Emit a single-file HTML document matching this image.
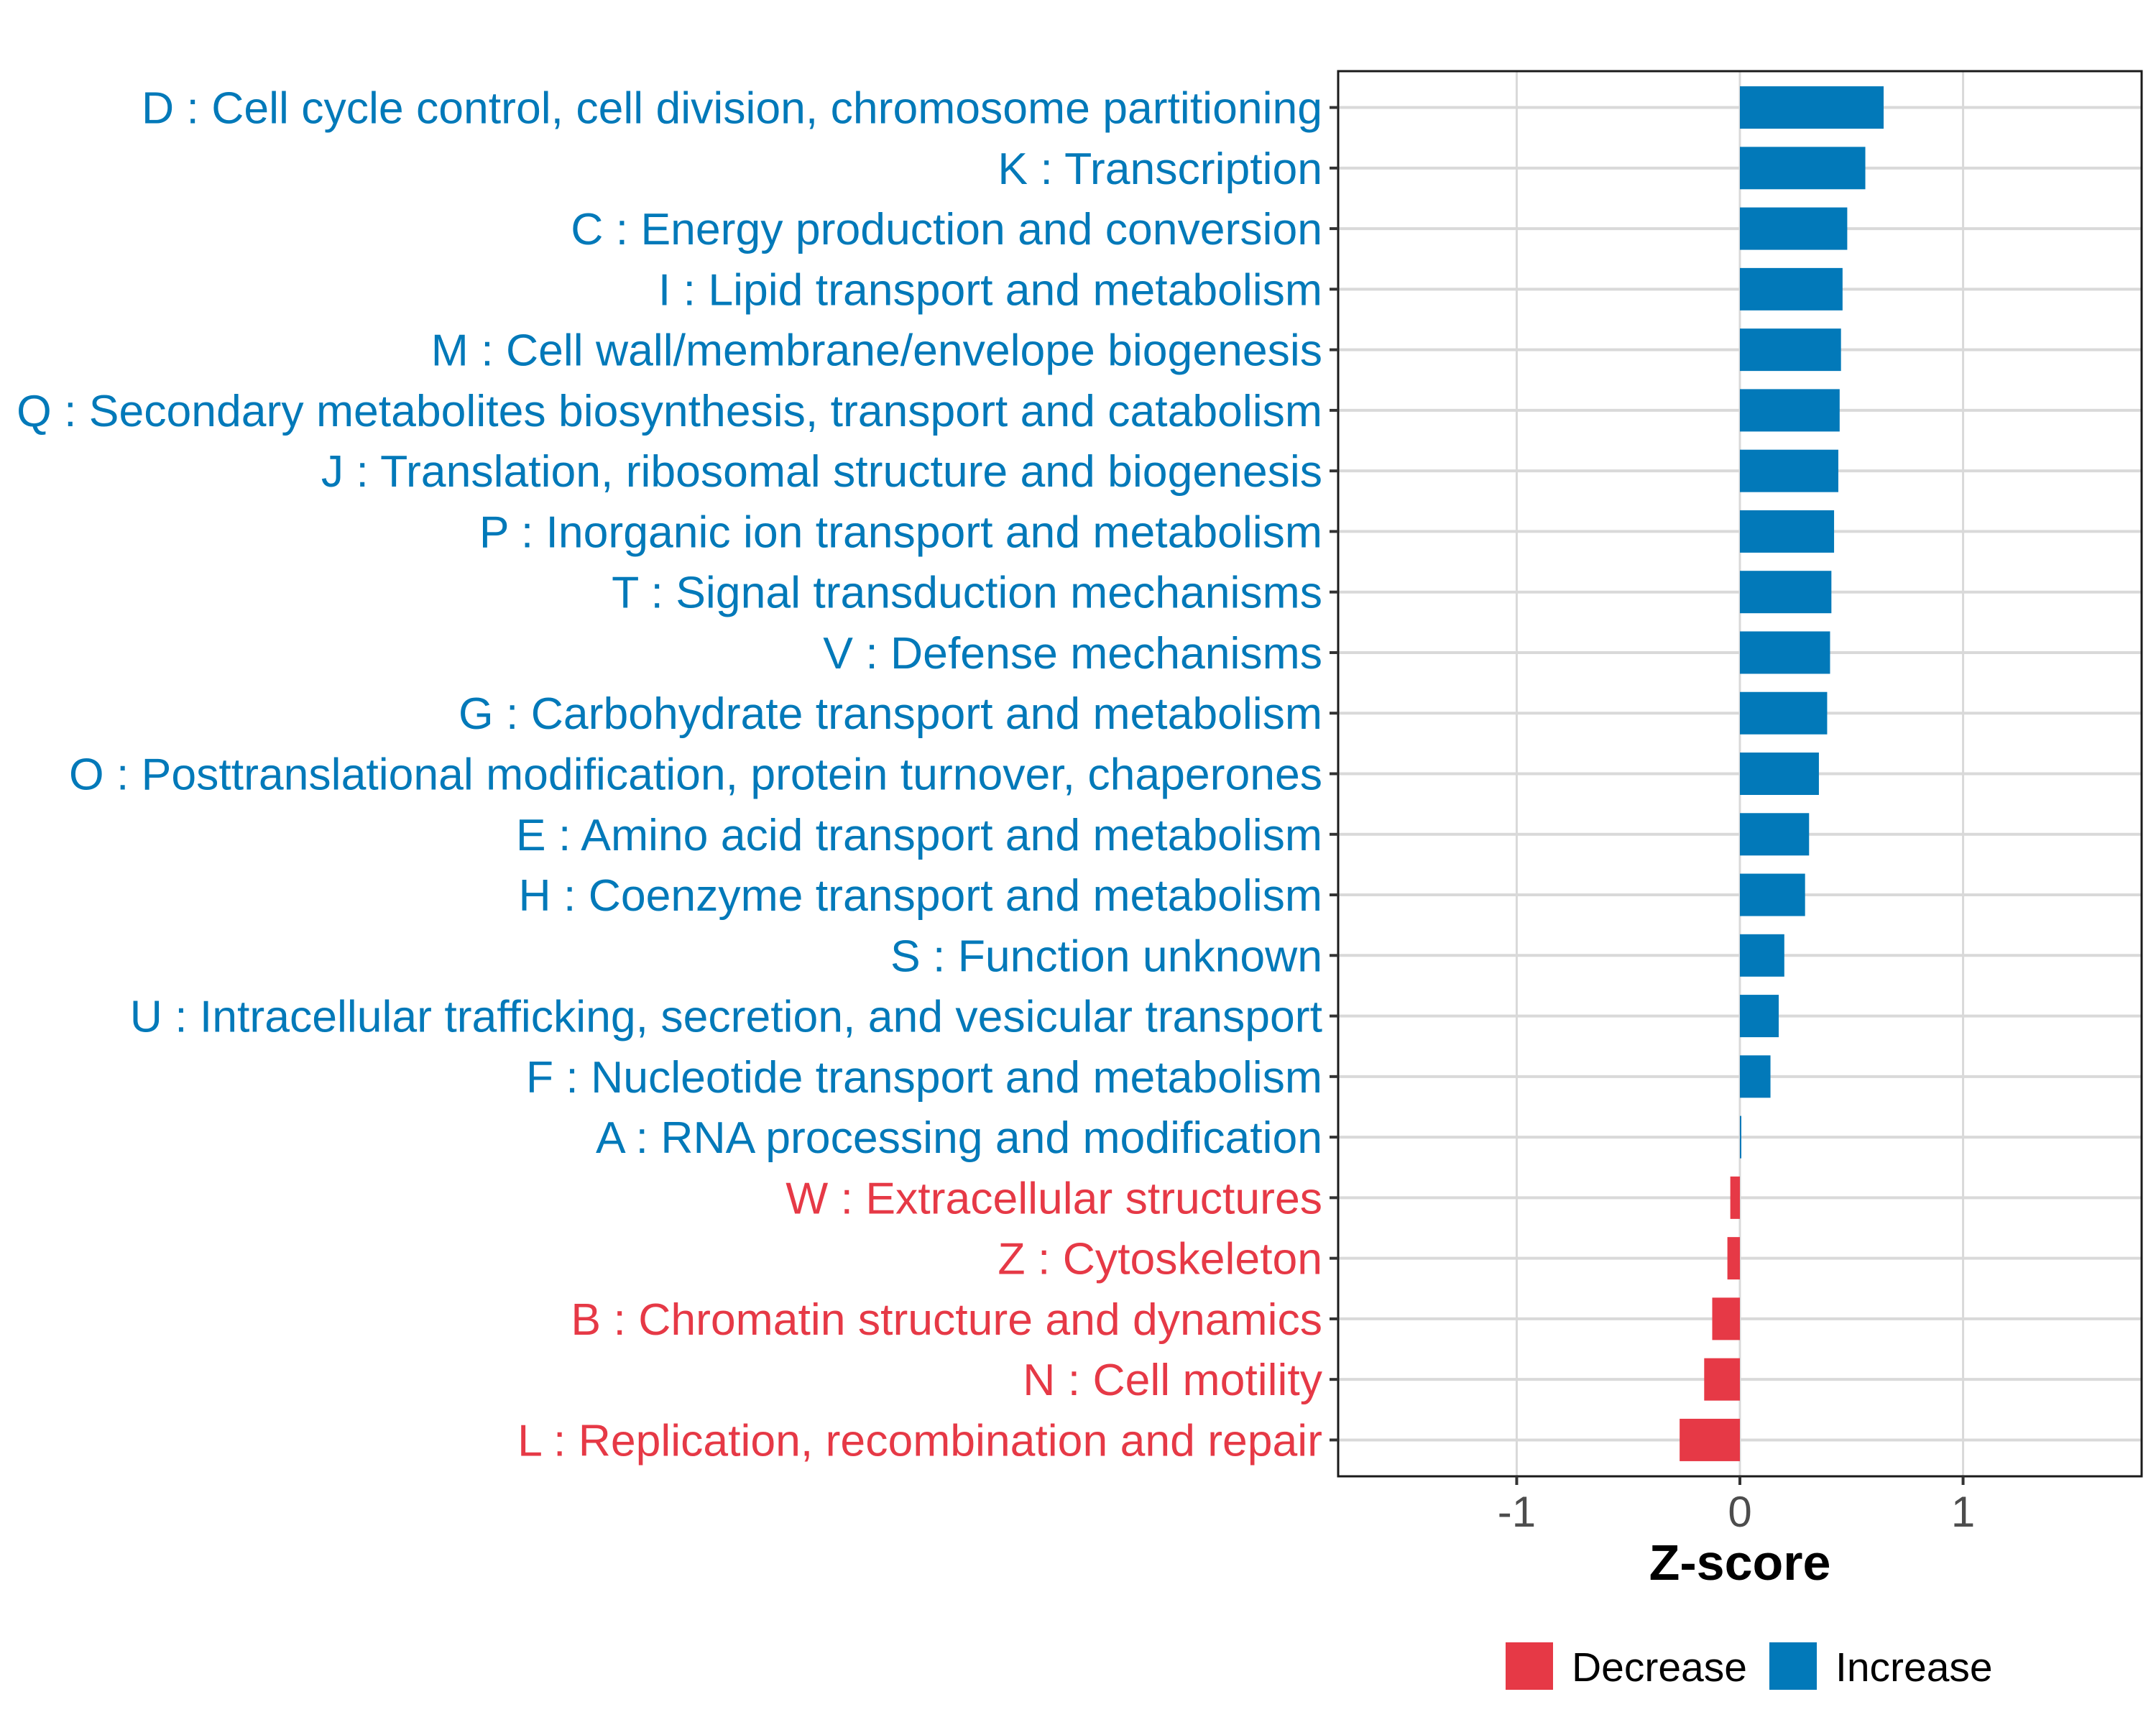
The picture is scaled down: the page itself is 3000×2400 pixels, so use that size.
<!DOCTYPE html>
<html><head><meta charset="utf-8"><style>
html,body{margin:0;padding:0;background:#fff;}
svg{display:block;font-family:"Liberation Sans",Arial,sans-serif;}
</style></head><body>
<svg id="chart" width="3000" height="2400" viewBox="0 0 3000 2400" xmlns="http://www.w3.org/2000/svg"></svg>
<script>
const categories = ["D : Cell cycle control, cell division, chromosome partitioning","K : Transcription","C : Energy production and conversion","I : Lipid transport and metabolism","M : Cell wall/membrane/envelope biogenesis","Q : Secondary metabolites biosynthesis, transport and catabolism","J : Translation, ribosomal structure and biogenesis","P : Inorganic ion transport and metabolism","T : Signal transduction mechanisms","V : Defense mechanisms","G : Carbohydrate transport and metabolism","O : Posttranslational modification, protein turnover, chaperones","E : Amino acid transport and metabolism","H : Coenzyme transport and metabolism","S : Function unknown","U : Intracellular trafficking, secretion, and vesicular transport","F : Nucleotide transport and metabolism","A : RNA processing and modification","W : Extracellular structures","Z : Cytoskeleton","B : Chromatin structure and dynamics","N : Cell motility","L : Replication, recombination and repair"];
const zscores = [0.644,0.562,0.481,0.46,0.453,0.447,0.441,0.422,0.41,0.404,0.391,0.354,0.31,0.292,0.199,0.174,0.137,0.006,-0.043,-0.056,-0.124,-0.16,-0.27];
const xTicks = [-1,0,1];
const xTickLabels = ["-1","0","1"];
const legendLabels = ["Decrease","Increase"];

const NS="http://www.w3.org/2000/svg";
const svg=document.getElementById('chart');
const BLUE="#0279b9", RED="#e63946";
const pL=1862,pR=2980,pT=99,pB=2054;
const xMin=-1.8,xMax=1.8;
function xs(v){return pL+(v-xMin)/(xMax-xMin)*(pR-pL);}
const n=categories.length;
const step=(pB-pT)/(n-1+1.2);
function ys(i){return pT+0.6*step+i*step;}
function mk(tag,attrs){const e=document.createElementNS(NS,tag);for(const k in attrs)e.setAttribute(k,attrs[k]);svg.appendChild(e);return e;}

xTicks.forEach((t,i)=>{
  const g=mk('line',{x1:xs(t),x2:xs(t),y1:pT,y2:pB,stroke:'#d9d9d9','stroke-width':3});
  
  
});
categories.forEach((c,i)=>{
  const g=mk('line',{x1:pL,x2:pR,y1:ys(i),y2:ys(i),stroke:'#d9d9d9','stroke-width':4});
  
  
});
const bh=step*0.7;
zscores.forEach((v,i)=>{
  const x0=xs(Math.min(0,v)), x1=xs(Math.max(0,v));
  const r=mk('rect',{x:x0,y:ys(i)-bh/2,width:Math.max(x1-x0,2),height:bh,fill:v>=0?BLUE:RED});
  
  
});
const pb=mk('rect',{x:pL,y:pT,width:pR-pL,height:pB-pT,fill:'none',stroke:'#1a1a1a','stroke-width':3});


categories.forEach((c,i)=>{
  const tk=mk('line',{x1:pL-12,x2:pL,y1:ys(i),y2:ys(i),stroke:'#333','stroke-width':4});
  
  
  const t=mk('text',{x:pL-22,y:ys(i)+22,'text-anchor':'end','font-size':62.5,fill:zscores[i]>=0?BLUE:RED});
  t.textContent=c;
  
  
});
xTicks.forEach((t,i)=>{
  const tk=mk('line',{x1:xs(t),x2:xs(t),y1:pB,y2:pB+12,stroke:'#333','stroke-width':4});
  
  
  const tx=mk('text',{x:xs(t),y:pB+70,'text-anchor':'middle','font-size':60,fill:'#4d4d4d'});
  tx.textContent=xTickLabels[i];
  
  
});
const xt=mk('text',{x:xs(0),y:2198,'text-anchor':'middle','font-size':70,'font-weight':'bold',fill:'#000'});
xt.textContent='Z-score';


const legX=[2095,2462], legC=[RED,BLUE];
legendLabels.forEach((l,i)=>{
  const g=document.createElementNS(NS,'g');svg.appendChild(g);
  
  
  const r=document.createElementNS(NS,'rect');
  r.setAttribute('x',legX[i]);r.setAttribute('y',2285);r.setAttribute('width',66);r.setAttribute('height',66);r.setAttribute('fill',legC[i]);
  
  
  g.appendChild(r);
  const t=document.createElementNS(NS,'text');
  t.setAttribute('x',legX[i]+92);t.setAttribute('y',2339);t.setAttribute('font-size',57);t.setAttribute('fill','#000');
  t.textContent=l;
  
  
  g.appendChild(t);
});
</script>
</body></html>
